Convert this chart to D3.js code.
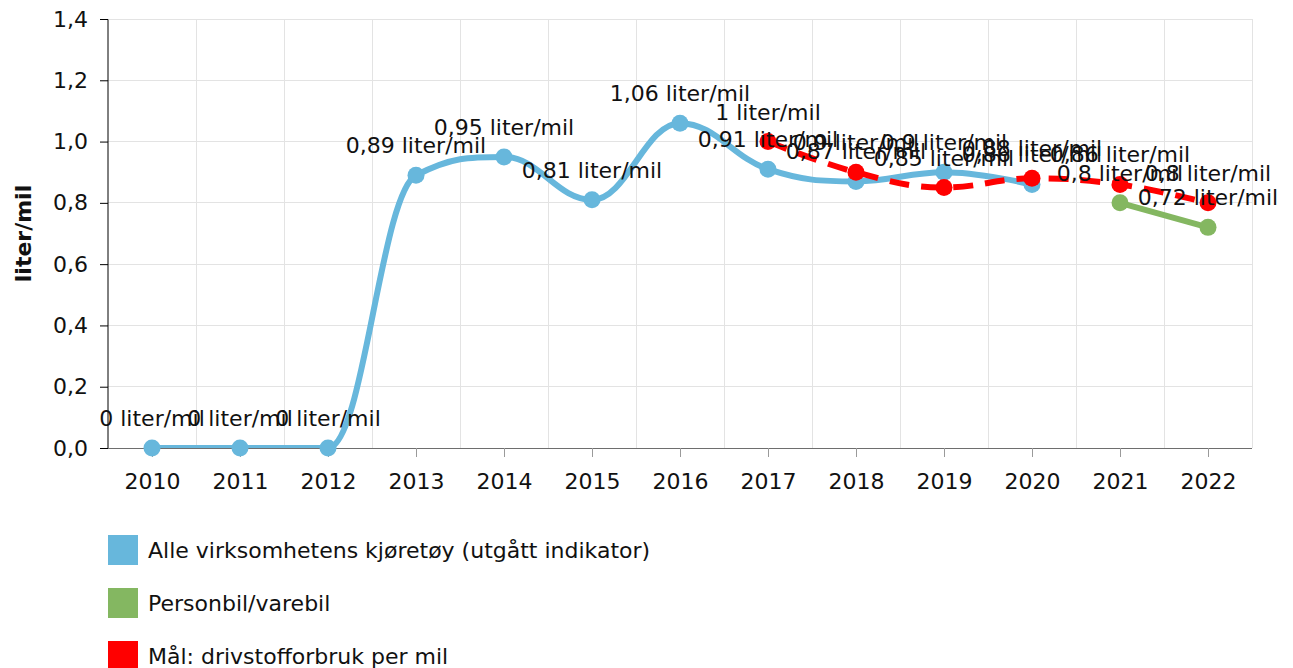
<!DOCTYPE html>
<html>
<head>
<meta charset="utf-8">
<script src="https://cdn.jsdelivr.net/npm/d3@7"></script>
<style>
  html, body { margin: 0; padding: 0; background: #fff; }
  svg { display: block; font-family: "DejaVu Sans", Verdana, sans-serif; }
</style>
</head>
<body>
<svg id="chart" width="1293" height="668"></svg>
<script>
const categories = ["2010","2011","2012","2013","2014","2015","2016","2017","2018","2019","2020","2021","2022"];
const allVehicles = [0, 0, 0, 0.89, 0.95, 0.81, 1.06, 0.91, 0.87, 0.9, 0.86, null, null];
const carVan = [null, null, null, null, null, null, null, null, null, null, null, 0.8, 0.72];
const target = [null, null, null, null, null, null, null, 1, 0.9, 0.85, 0.88, 0.86, 0.8];
const yTicks = [0, 0.2, 0.4, 0.6, 0.8, 1.0, 1.2, 1.4];
const unit = "liter/mil";
const seriesNames = ["Alle virksomhetens kjøretøy (utgått indikator)", "Personbil/varebil", "Mål: drivstofforbruk per mil"];
const colors = ["#67b7dc", "#84b761", "#ff0000"];

const svg = d3.select("#chart");
const L = 108, R = 1252, T = 19, B = 448;
const x = d3.scalePoint().domain(categories).range([L, R]).padding(0.5);
const y = d3.scaleLinear().domain([0, 1.4]).range([B, T]);
const step = x.step();

// Highcharts-like spline curve
function HCSpline(context) { this._context = context; }
HCSpline.prototype = {
  areaStart() {}, areaEnd() {},
  lineStart() { this._x = []; this._y = []; },
  point(px, py) { this._x.push(+px); this._y.push(+py); },
  lineEnd() {
    const X = this._x, Y = this._y, n = X.length, c = this._context;
    if (!n) return;
    c.moveTo(X[0], Y[0]);
    const sm = 1.5, den = 2.5;
    let prx = X[0], pry = Y[0];
    for (let i = 1; i < n; i++) {
      let lx = X[i], ly = Y[i], rx = X[i], ry = Y[i];
      if (i < n - 1) {
        const px = X[i], py = Y[i], lastX = X[i-1], lastY = Y[i-1], nx = X[i+1], ny = Y[i+1];
        lx = (sm * px + lastX) / den; ly = (sm * py + lastY) / den;
        rx = (sm * px + nx) / den; ry = (sm * py + ny) / den;
        if (rx !== lx) {
          const corr = ((ry - ly) * (rx - px)) / (rx - lx) + py - ry;
          ly += corr; ry += corr;
        }
        if (ly > lastY && ly > py) { ly = Math.max(lastY, py); ry = 2 * py - ly; }
        else if (ly < lastY && ly < py) { ly = Math.min(lastY, py); ry = 2 * py - ly; }
        if (ry > ny && ry > py) { ry = Math.max(ny, py); ly = 2 * py - ry; }
        else if (ry < ny && ry < py) { ry = Math.min(ny, py); ly = 2 * py - ry; }
      }
      c.bezierCurveTo(prx, pry, lx, ly, X[i], Y[i]);
      prx = rx; pry = ry;
    }
  }
};
const hcSpline = ctx => new HCSpline(ctx);

// clip
svg.append("defs").append("clipPath").attr("id", "plotClip")
  .append("rect").attr("x", L).attr("y", T).attr("width", R - L).attr("height", B - T);

// horizontal gridlines
svg.append("g").selectAll("line").data(yTicks.filter(d => d > 0)).join("line")
  .attr("x1", L).attr("x2", R).attr("y1", d => y(d)).attr("y2", d => y(d))
  .attr("stroke", "#e3e3e3").attr("stroke-width", 1).attr("shape-rendering", "crispEdges");
// vertical gridlines at category boundaries
svg.append("g").selectAll("line").data(categories).join("line")
  .attr("x1", d => x(d) + step / 2).attr("x2", d => x(d) + step / 2)
  .attr("y1", T).attr("y2", B)
  .attr("stroke", "#e3e3e3").attr("stroke-width", 1).attr("shape-rendering", "crispEdges");

// x axis
const xAxis = svg.append("g").attr("transform", `translate(0,${B})`)
  .call(d3.axisBottom(x).tickSize(9).tickPadding(16));
xAxis.select(".domain").attr("stroke", "#6e6e6e").attr("d", `M${L},0.5H${R}`);
xAxis.selectAll(".tick line").attr("stroke", "#9a9a9a");
xAxis.selectAll("text").attr("font-size", 22).attr("fill", "#111").attr("font-family", "DejaVu Sans, Verdana, sans-serif");

// y axis
const fmt = v => String(+v.toFixed(2)).replace(".", ",");
const yAxis = svg.append("g").attr("transform", `translate(${L},0)`)
  .call(d3.axisLeft(y).tickValues(yTicks).tickFormat(d => d3.format(".1f")(d).replace(".", ",")).tickSize(8).tickPadding(12));
yAxis.select(".domain").attr("stroke", "#000").attr("d", `M-8,${T}.5H0V${B}`);
yAxis.selectAll(".tick line").attr("stroke", "#000");
yAxis.selectAll("text").attr("font-size", 22).attr("fill", "#111").attr("font-family", "DejaVu Sans, Verdana, sans-serif");

// y title
svg.append("text").attr("transform", `translate(31,${(T + B) / 2}) rotate(-90)`)
  .attr("text-anchor", "middle").attr("font-size", 22).attr("font-weight", "bold")
  .attr("fill", "#111").text(unit);

const series = [
  { name: seriesNames[0], values: allVehicles, color: colors[0], spline: true, dash: null },
  { name: seriesNames[1], values: carVan, color: colors[1], spline: false, dash: null },
  { name: seriesNames[2], values: target, color: colors[2], spline: true, dash: "20,12" }
];

const plotG = svg.append("g");
series.forEach(s => {
  const pts = categories.map((c, i) => ({ c, v: s.values[i] })).filter(d => d.v !== null);
  const line = d3.line().x(d => x(d.c)).y(d => y(d.v)).curve(s.spline ? hcSpline : d3.curveLinear);
  plotG.append("path").datum(pts).attr("d", line)
    .attr("fill", "none").attr("stroke", s.color).attr("stroke-width", 6)
    .attr("stroke-dasharray", s.dash).attr("clip-path", "url(#plotClip)");
  plotG.append("g").selectAll("circle").data(pts).join("circle")
    .attr("cx", d => x(d.c)).attr("cy", d => y(d.v)).attr("r", 8.5).attr("fill", s.color);
});

// data labels
const labG = svg.append("g");
series.forEach(s => {
  const pts = categories.map((c, i) => ({ c, v: s.values[i] })).filter(d => d.v !== null);
  labG.append("g").selectAll("text").data(pts).join("text")
    .attr("x", d => x(d.c)).attr("y", d => y(d.v) - 22)
    .attr("text-anchor", "middle").attr("font-size", 22).attr("fill", "#111")
    .text(d => fmt(d.v) + " " + unit);
});

// legend
const leg = svg.append("g");
series.forEach((s, i) => {
  const cy = 550 + i * 53;
  leg.append("rect").attr("x", 108).attr("y", cy - 15).attr("width", 30).attr("height", 30).attr("fill", s.color);
  leg.append("text").attr("x", 148).attr("y", cy).attr("dy", "0.35em")
    .attr("font-size", 22).attr("fill", "#111").text(s.name);
});
</script>
</body>
</html>
